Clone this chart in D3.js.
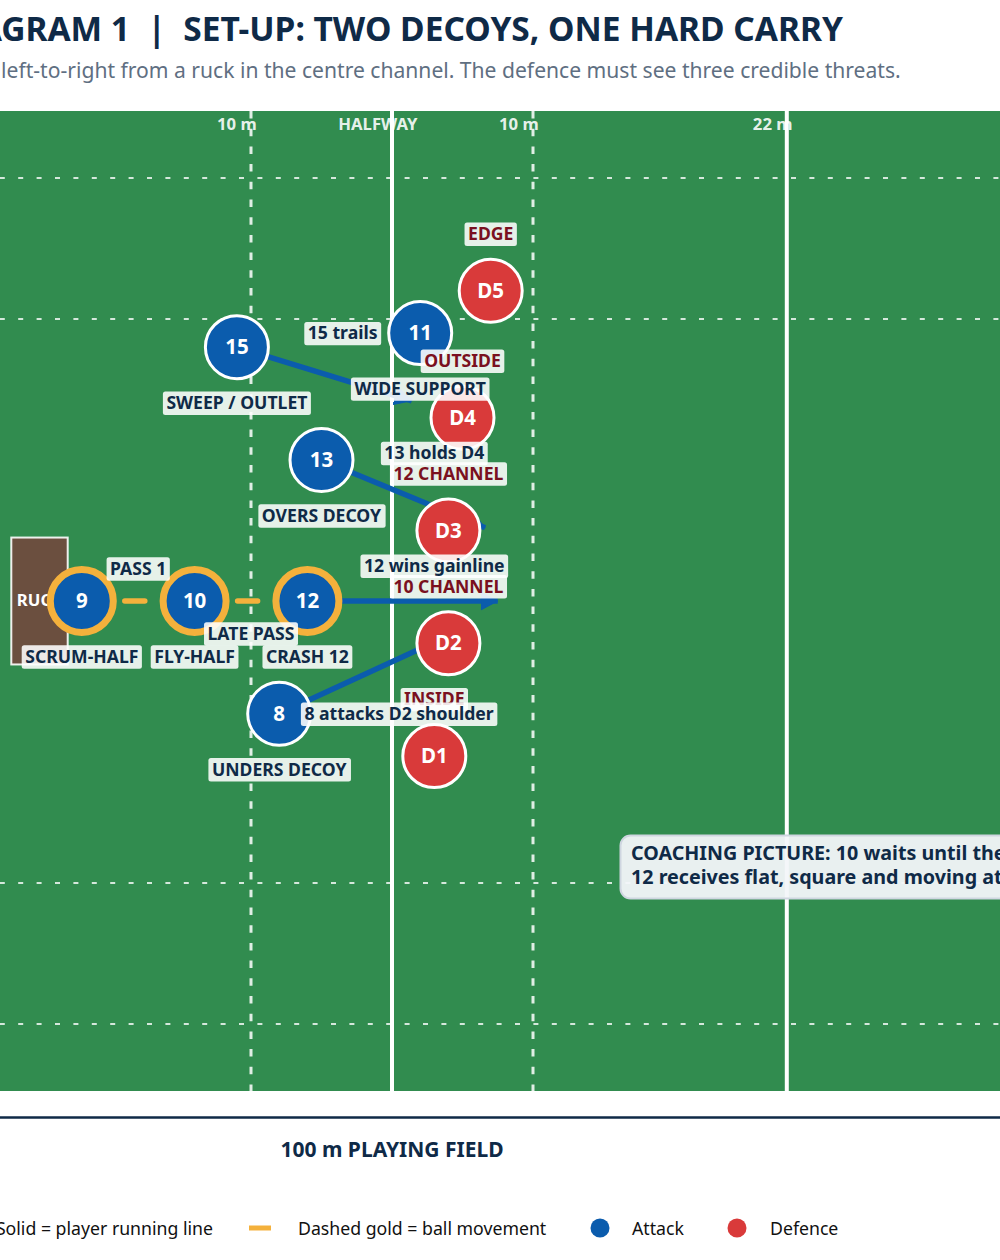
<!DOCTYPE html>
<html>
<head>
<meta charset="utf-8">
<script src="https://cdn.jsdelivr.net/npm/d3@7"></script>
<style>
  html, body { margin: 0; background: #fff; overflow: hidden; }
  svg { display: block; font-family: "Noto Sans", sans-serif; }
  text { white-space: pre; }
</style>
</head>
<body>
<svg id="chart" width="1000" height="1260"></svg>
<script>
const titleText = 'DIAGRAM 1  |  SET-UP: TWO DECOYS, ONE HARD CARRY'
const subtitleText = 'Attack runs left-to-right from a ruck in the centre channel. The defence must see three credible threats.'

// all player and line values are in metres on a 100 x 70 field
const fieldMarks = [[40, '10 m'], [50, 'HALFWAY'], [60, '10 m'], [78, '22 m']]
const solidLines = [50, 78]
const dashedLines = [40, 60]
const channelLines = [5, 15, 55, 65]
const ruck = [23, 27, 30.5, 39.5]

// number, x, y, label, carries ball
const attack = [
  ['9', 28, 35, 'SCRUM-HALF', true],
  ['10', 36, 35, 'FLY-HALF', true],
  ['12', 44, 35, 'CRASH 12', true],
  ['8', 42, 27, 'UNDERS DECOY', false],
  ['13', 45, 45, 'OVERS DECOY', false],
  ['15', 39, 53, 'SWEEP / OUTLET', false],
  ['11', 52, 54, 'WIDE SUPPORT', false]
]
const defence = [
  ['D1', 53, 24, 'INSIDE'],
  ['D2', 54, 32, '10 CHANNEL'],
  ['D3', 54, 40, '12 CHANNEL'],
  ['D4', 55, 48, 'OUTSIDE'],
  ['D5', 57, 57, 'EDGE']
]
// x1, y1, x2, y2
const runLines = [
  [44, 35, 57.5, 35],
  [42, 27, 55, 33],
  [45, 45, 56.6, 40.2],
  [39, 53, 51.4, 49.2]
]
const passLines = [
  [28, 35, 36, 35],
  [36, 35, 44, 35]
]
// text, x, y
const notes = [
  ['PASS 1', 32, 37.3],
  ['LATE PASS', 40, 32.7],
  ['12 wins gainline', 53, 37.5],
  ['8 attacks D2 shoulder', 50.5, 27],
  ['13 holds D4', 53, 45.5],
  ['15 trails', 46.5, 54]
]
const coachLines = ['COACHING PICTURE: 10 waits until the', '12 receives flat, square and moving at']
const axisLabel = '100 m PLAYING FIELD'

const navy = '#0f2a47'
const maroon = '#7a1020'
const blue = '#0b5cad'
const red = '#d93a3a'
const gold = '#f4b13c'
const green = '#318c4f'

const x = d3.scaleLinear().domain([0, 100]).range([-313, 1097])
const y = d3.scaleLinear().domain([0, 70]).range([1094.5, 107.5])
const plotTop = 111
const plotBottom = 1091

const svg = d3.select('#chart')

svg.append('text')
  .attr('x', x(50)).attr('y', 41)
  .attr('text-anchor', 'middle')
  .attr('font-size', 33.5).attr('font-weight', 700).attr('fill', navy)
  .text(titleText)

svg.append('text')
  .attr('x', x(50)).attr('y', 78)
  .attr('text-anchor', 'middle')
  .attr('font-size', 21.1).attr('fill', '#5f6f82')
  .text(subtitleText)

svg.append('rect')
  .attr('x', x(0)).attr('y', plotTop)
  .attr('width', x(100) - x(0)).attr('height', plotBottom - plotTop)
  .attr('fill', green)

svg.append('g').selectAll('line')
  .data(channelLines)
  .enter()
  .append('line')
  .attr('x1', x(0)).attr('x2', x(100))
  .attr('y1', d => y(d)).attr('y2', d => y(d))
  .attr('stroke', '#fff').attr('stroke-opacity', 0.8).attr('stroke-width', 2)
  .attr('stroke-dasharray', '5 13.4')

svg.append('g').selectAll('line')
  .data(dashedLines)
  .enter()
  .append('line')
  .attr('x1', d => x(d)).attr('x2', d => x(d))
  .attr('y1', plotTop).attr('y2', plotBottom)
  .attr('stroke', '#fff').attr('stroke-opacity', 0.85).attr('stroke-width', 3)
  .attr('stroke-dasharray', '7.5 10.2')

svg.append('g').selectAll('line')
  .data(solidLines)
  .enter()
  .append('line')
  .attr('x1', d => x(d)).attr('x2', d => x(d))
  .attr('y1', plotTop).attr('y2', plotBottom)
  .attr('stroke', '#fff').attr('stroke-width', 4)

svg.append('g').selectAll('text')
  .data(fieldMarks)
  .enter()
  .append('text')
  .attr('x', d => x(d[0] - 1)).attr('y', 130)
  .attr('text-anchor', 'middle')
  .attr('font-size', 16.7).attr('font-weight', 700)
  .attr('fill', '#fff').attr('fill-opacity', 0.9)
  .text(d => d[1])

// ruck
svg.append('rect')
  .attr('x', x(ruck[0])).attr('y', y(ruck[3]))
  .attr('width', x(ruck[1]) - x(ruck[0])).attr('height', y(ruck[2]) - y(ruck[3]))
  .attr('fill', '#6b4f3f').attr('stroke', '#fff').attr('stroke-opacity', 0.9).attr('stroke-width', 2)

svg.append('text')
  .attr('x', x((ruck[0] + ruck[1]) / 2)).attr('y', y(35) - 1.5)
  .attr('text-anchor', 'middle').attr('dominant-baseline', 'central')
  .attr('font-size', 16.7).attr('font-weight', 700).attr('fill', '#fff')
  .text('RUCK')

// arrow head
svg.append('defs').append('marker')
  .attr('id', 'head')
  .attr('markerUnits', 'userSpaceOnUse')
  .attr('viewBox', '0 -10 18 20')
  .attr('refX', 17).attr('refY', 0)
  .attr('markerWidth', 18).attr('markerHeight', 20)
  .attr('orient', 'auto')
  .append('path')
  .attr('d', 'M0,-9L17,0L0,9Z')
  .attr('fill', blue).attr('stroke', blue).attr('stroke-width', 1).attr('stroke-linejoin', 'round')

svg.append('g').selectAll('line')
  .data(runLines)
  .enter()
  .append('line')
  .attr('x1', d => x(d[0])).attr('y1', d => y(d[1]))
  .attr('x2', d => x(d[2])).attr('y2', d => y(d[3]))
  .attr('stroke', blue).attr('stroke-width', 5.5)
  .attr('marker-end', 'url(#head)')

svg.append('g').selectAll('line')
  .data(passLines)
  .enter()
  .append('line')
  .attr('x1', d => x(d[0])).attr('y1', d => y(d[1]))
  .attr('x2', d => x(d[2])).attr('y2', d => y(d[3]))
  .attr('stroke', gold).attr('stroke-width', 5.5).attr('stroke-linecap', 'round')
  .attr('stroke-dasharray', '20 32').attr('stroke-dashoffset', -43)

function drawPlayers(rows, fill) {
  const node = svg.append('g').selectAll('g')
    .data(rows)
    .enter()
    .append('g')
    .attr('transform', d => `translate(${x(d[1])},${y(d[2])})`)
  node.append('circle')
    .attr('r', 31.5)
    .attr('fill', fill)
    .attr('stroke', d => d[4] ? gold : '#fff')
    .attr('stroke-width', d => d[4] ? 7 : 3)
  node.append('text')
    .attr('y', -1)
    .attr('text-anchor', 'middle').attr('dominant-baseline', 'central')
    .attr('font-size', 20.5).attr('font-weight', 700).attr('fill', '#fff')
    .text(d => d[0])
}

function addLabel(px, py, label, color) {
  const g = svg.append('g')
  const t = g.append('text')
    .attr('x', px).attr('y', py - 1.3)
    .attr('text-anchor', 'middle').attr('dominant-baseline', 'central')
    .attr('font-size', 17.6).attr('font-weight', 700).attr('fill', color)
    .text(label)
  const b = t.node().getBBox()
  g.insert('rect', 'text')
    .attr('x', b.x - 3.5).attr('y', py - 11.7)
    .attr('width', b.width + 7).attr('height', 23.4)
    .attr('rx', 2.5)
    .attr('fill', '#fff').attr('fill-opacity', 0.88)
}

drawPlayers(attack, blue)
drawPlayers(defence, red)

attack.forEach(d => addLabel(x(d[1]), y(d[2]) + 56, d[3], navy))
defence.forEach(d => addLabel(x(d[1]), y(d[2]) - 56.5, d[3], maroon))
notes.forEach(d => addLabel(x(d[1]), y(d[2]) + 0.5, d[0], navy))

// coaching call-out, runs past the right edge like the original
const coach = svg.append('g')
const coachY = y(16.2)
const coachText = coach.append('text')
  .attr('font-size', 19.7).attr('font-weight', 700).attr('fill', navy)
coachText.selectAll('tspan')
  .data(coachLines)
  .enter()
  .append('tspan')
  .attr('x', 631)
  .attr('y', (d, i) => coachY - 6 + i * 24)
  .text(d => d)
const coachBox = coachText.node().getBBox()
coach.insert('rect', 'text')
  .attr('x', 620.5).attr('y', coachY - 30.5)
  .attr('width', coachBox.width + 22).attr('height', 63)
  .attr('rx', 10)
  .attr('fill', '#f3f6f9').attr('fill-opacity', 0.95)
  .attr('stroke', '#cfd6e0').attr('stroke-width', 2)

// axis rule and caption
svg.append('line')
  .attr('x1', 0).attr('x2', 1000).attr('y1', 1117.5).attr('y2', 1117.5)
  .attr('stroke', navy).attr('stroke-width', 2.5)

svg.append('text')
  .attr('x', x(50)).attr('y', 1157)
  .attr('text-anchor', 'middle')
  .attr('font-size', 21).attr('font-weight', 700).attr('fill', navy)
  .text(axisLabel)

// legend
const legendY = 1228
const legendType = 17.7
svg.append('text')
  .attr('x', 213).attr('y', legendY)
  .attr('text-anchor', 'end').attr('dominant-baseline', 'central')
  .attr('font-size', legendType).attr('fill', '#111')
  .text('Solid = player running line')
svg.append('line')
  .attr('x1', 249).attr('x2', 271).attr('y1', legendY).attr('y2', legendY)
  .attr('stroke', gold).attr('stroke-width', 5)
svg.append('text')
  .attr('x', 298).attr('y', legendY)
  .attr('dominant-baseline', 'central')
  .attr('font-size', legendType).attr('fill', '#111')
  .text('Dashed gold = ball movement')
svg.append('circle').attr('cx', 600).attr('cy', legendY).attr('r', 9.5).attr('fill', blue)
svg.append('text')
  .attr('x', 632).attr('y', legendY)
  .attr('dominant-baseline', 'central')
  .attr('font-size', legendType).attr('fill', '#111')
  .text('Attack')
svg.append('circle').attr('cx', 737).attr('cy', legendY).attr('r', 9.5).attr('fill', red)
svg.append('text')
  .attr('x', 770).attr('y', legendY)
  .attr('dominant-baseline', 'central')
  .attr('font-size', legendType).attr('fill', '#111')
  .text('Defence')
</script>
</body>
</html>
